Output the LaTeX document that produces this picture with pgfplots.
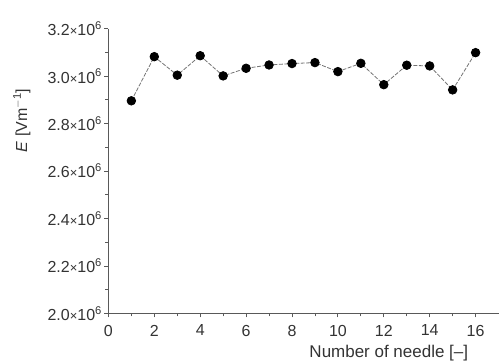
\documentclass[border=0pt]{standalone}
\usepackage{pgfplots}
\pgfplotsset{compat=1.18}
\usepackage{fontspec}
\setmainfont{Liberation Sans}
\begin{document}
\begin{tikzpicture}
\begin{axis}[
  at={(0,0)}, anchor=south west,
  scale only axis,
  width=390.5bp, height=285bp,
  xmin=0, xmax=17, ymin=2.0, ymax=3.2,
  axis x line*=bottom, axis y line*=left,
  axis line style={draw=black!65, line width=0.9pt},
  every tick/.style={draw=black!65, line width=0.9pt},
  tick align=outside,
  major tick length=4bp, minor tick length=3bp,
  xtick={0,2,4,6,8,10,12,14,16},
  minor xtick={1,3,5,7,9,11,13,15},
  ytick={2.0,2.2,2.4,2.6,2.8,3.0,3.2},
  minor ytick={2.1,2.3,2.5,2.7,2.9,3.1},
  yticklabels={2.0{\fontsize{13bp}{14bp}\selectfont×}10\textsuperscript{6},2.2{\fontsize{13bp}{14bp}\selectfont×}10\textsuperscript{6},2.4{\fontsize{13bp}{14bp}\selectfont×}10\textsuperscript{6},2.6{\fontsize{13bp}{14bp}\selectfont×}10\textsuperscript{6},2.8{\fontsize{13bp}{14bp}\selectfont×}10\textsuperscript{6},3.0{\fontsize{13bp}{14bp}\selectfont×}10\textsuperscript{6},3.2{\fontsize{13bp}{14bp}\selectfont×}10\textsuperscript{6}},
  /pgf/number format/assume math mode=true,
  tick label style={font=\fontsize{16bp}{18bp}\selectfont, text=black!80},
  yticklabel style={xshift=1bp},
  xticklabel style={yshift=-4bp},
  ylabel={\textit{E} [Vm\textsuperscript{$-$1}]},
  ylabel style={at={(axis description cs:-0.222,0.678)}, anchor=center, font=\fontsize{16bp}{18bp}\selectfont, text=black!80},
  xlabel={Number of needle [–]},
  xlabel style={at={(axis description cs:0.931,-0.138)}, anchor=east, font=\fontsize{17bp}{19bp}\selectfont, text=black!80},
  clip=false,
]
\addplot[black!55, line width=0.8pt, dash pattern=on 4pt off 1.5pt,
  mark=*, mark size=4.3pt, mark options={solid, fill=black, draw=black}]
coordinates {
(1,2.896) (2,3.082) (3,3.004) (4,3.086) (5,3.001) (6,3.033) (7,3.047) (8,3.053)
(9,3.057) (10,3.019) (11,3.054) (12,2.964) (13,3.046) (14,3.043) (15,2.942) (16,3.099)
};
\end{axis}
\path[use as bounding box] (-108.5bp,-48.3bp) rectangle (390.5bp,313.7bp);
\end{tikzpicture}
\end{document}
